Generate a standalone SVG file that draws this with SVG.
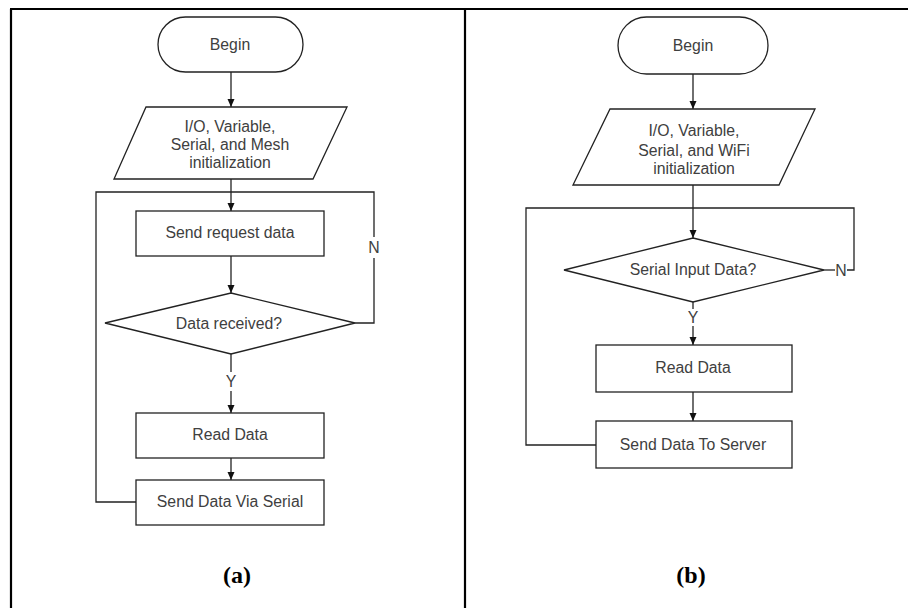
<svg xmlns="http://www.w3.org/2000/svg" width="908" height="608" viewBox="0 0 908 608">
<style>
.sh{fill:#fff;stroke:#222;stroke-width:1.3}
.ln{fill:none;stroke:#222;stroke-width:1.3}
.t{font-family:"Liberation Sans",Arial,sans-serif;font-size:15.8px;fill:#404040;text-anchor:middle}
.cap{font-family:"Liberation Serif","Times New Roman",serif;font-size:24px;font-weight:bold;fill:#000;text-anchor:middle}
.fr{stroke:#000;stroke-width:2.2;fill:none}
</style>
<defs>
<marker id="ah" markerWidth="10" markerHeight="10" refX="9" refY="5" orient="auto" markerUnits="userSpaceOnUse">
<path d="M1,1.5 L9,5 L1,8.5 Z" fill="#111"/>
</marker>
</defs>
<rect width="908" height="608" fill="#fff"/>
<g id="frame">
<line class="fr" x1="10" y1="9" x2="908" y2="9"/>
<line class="fr" x1="11" y1="9" x2="11" y2="608"/>
<line class="fr" x1="465" y1="9" x2="465" y2="608"/>
</g>
<g id="connectors">
<line class="ln" x1="231" y1="72" x2="231" y2="107" marker-end="url(#ah)"/>
<line class="ln" x1="231" y1="179" x2="231" y2="211" marker-end="url(#ah)"/>
<line class="ln" x1="231" y1="256" x2="231" y2="293" marker-end="url(#ah)"/>
<polyline class="ln" points="355,323 374,323 374,258"/>
<polyline class="ln" points="374,237 374,192 96,192 96,502 136,502"/>
<line class="ln" x1="231" y1="354" x2="231" y2="372"/>
<line class="ln" x1="231" y1="391" x2="231" y2="413" marker-end="url(#ah)"/>
<line class="ln" x1="231" y1="458" x2="231" y2="480" marker-end="url(#ah)"/>
<line class="ln" x1="693" y1="74" x2="693" y2="109" marker-end="url(#ah)"/>
<line class="ln" x1="693" y1="185" x2="693" y2="238" marker-end="url(#ah)"/>
<line class="ln" x1="824" y1="270" x2="835" y2="270"/>
<polyline class="ln" points="847,270 854,270 854,208 526,208 526,445 596,445"/>
<line class="ln" x1="693" y1="302" x2="693" y2="309"/>
<line class="ln" x1="693" y1="326" x2="693" y2="345" marker-end="url(#ah)"/>
<line class="ln" x1="693" y1="392" x2="693" y2="421" marker-end="url(#ah)"/>
</g>
<g id="a-begin">
<rect class="sh" x="158" y="17" width="145" height="55" rx="27.5"/>
<text class="t" x="230" y="49.5">Begin</text>
</g>
<g id="a-init">
<polygon class="sh" points="146,107 347,107 313,179 114,179"/>
<text class="t" x="230" y="132">I/O, Variable,</text>
<text class="t" x="230" y="150">Serial, and Mesh</text>
<text class="t" x="230" y="168">initialization</text>
</g>
<g id="a-send-request">
<rect class="sh" x="136" y="211" width="188" height="45"/>
<text class="t" x="230" y="238">Send request data</text>
</g>
<g id="a-decision">
<polygon class="sh" points="231,293 355,323 231,354 105,323"/>
<text class="t" x="229" y="329">Data received?</text>
<text class="t" x="374" y="253">N</text>
<text class="t" x="231" y="387">Y</text>
</g>
<g id="a-read">
<rect class="sh" x="136" y="413" width="188" height="45"/>
<text class="t" x="230" y="440">Read Data</text>
</g>
<g id="a-send-serial">
<rect class="sh" x="136" y="480" width="188" height="45"/>
<text class="t" x="230" y="507">Send Data Via Serial</text>
</g>
<text class="cap" x="237" y="583">(a)</text>
<g id="b-begin">
<rect class="sh" x="618" y="17" width="150" height="57" rx="28.5"/>
<text class="t" x="693" y="50.5">Begin</text>
</g>
<g id="b-init">
<polygon class="sh" points="610,109 815,109 779,185 573,185"/>
<text class="t" x="694" y="136">I/O, Variable,</text>
<text class="t" x="694" y="155.5">Serial, and WiFi</text>
<text class="t" x="694" y="174">initialization</text>
</g>
<g id="b-decision">
<polygon class="sh" points="693,238 824,270 693,302 564,270"/>
<text class="t" x="693" y="275">Serial Input Data?</text>
<text class="t" x="841" y="275.5">N</text>
<text class="t" x="693" y="323">Y</text>
</g>
<g id="b-read">
<rect class="sh" x="596" y="345" width="196" height="47"/>
<text class="t" x="693" y="373">Read Data</text>
</g>
<g id="b-send-server">
<rect class="sh" x="596" y="421" width="196" height="47"/>
<text class="t" x="693" y="450">Send Data To Server</text>
</g>
<text class="cap" x="691" y="583">(b)</text>
</svg>
